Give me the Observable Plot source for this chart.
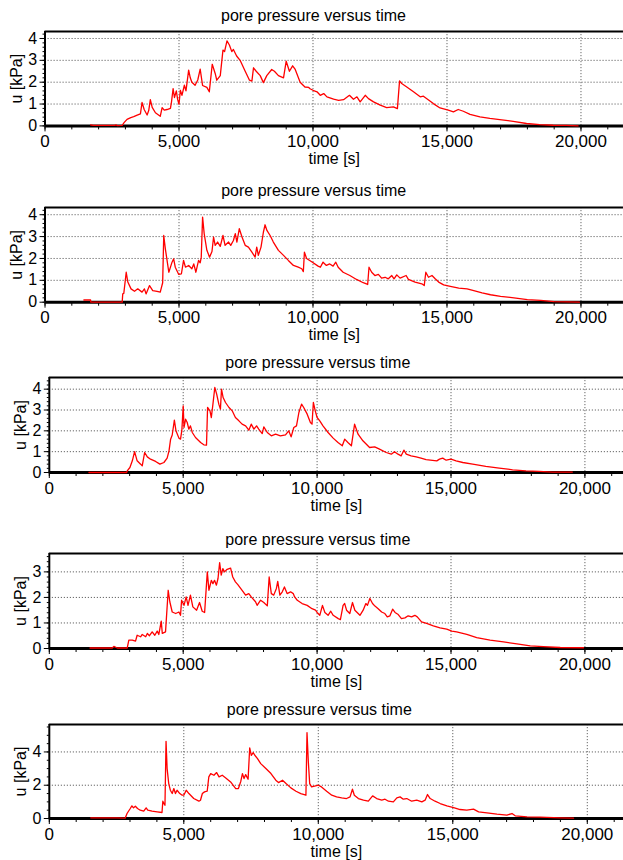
<!DOCTYPE html>
<html><head><meta charset="utf-8">
<script src="https://cdn.jsdelivr.net/npm/d3@7"></script>
<script src="https://cdn.jsdelivr.net/npm/@observablehq/plot@0.6"></script>
<style>
html,body{margin:0;padding:0;background:#fff;}
body{width:623px;height:860px;overflow:hidden;position:relative;font-family:"Liberation Sans",Arial,sans-serif;}
.panel{position:absolute;left:0;}
.title{position:absolute;font-size:16px;line-height:16px;white-space:nowrap;transform:translateX(-50%);color:#000;}
</style></head><body>
<script>
// ---------- data (time [s], u [kPa]) ----------
const titleText = "pore pressure versus time";
const xLabel = "time [s]";
const yLabel = "u [kPa]";
const xMajorTicks = [0, 5000, 10000, 15000, 20000];
const xMinorTicks = [0,1000,2000,3000,4000,5000,6000,7000,8000,9000,10000,11000,12000,13000,14000,15000,16000,17000,18000,19000,20000,21000];
const yTicks4 = [0, 1, 2, 3, 4];
const yTicks3 = [0, 1, 2, 3];
const yTicks5 = [0, 2, 4];

const series1 = [[1700,0.05],[1800,0.02],[2600,0.02],[2650,0.05],[2700,0.01],[2880,0.02],[2950,0.15],[3060,0.3],[3200,0.38],[3310,0.42],[3440,0.49],[3560,0.55],[3620,1.07],[3700,0.75],[3810,0.5],[3870,0.7],[3930,1.2],[4000,0.85],[4120,0.6],[4300,0.44],[4370,0.84],[4450,0.72],[4550,0.75],[4680,0.8],[4720,1.1],[4780,1.71],[4830,1.3],[4900,1.6],[4950,1.2],[5000,0.99],[5050,1.63],[5110,1.4],[5200,1.86],[5260,1.6],[5360,2.55],[5420,2.2],[5480,2.0],[5600,1.86],[5700,2.1],[5790,2.6],[5880,1.85],[6040,1.76],[6130,1.56],[6240,2.82],[6350,2.4],[6410,2.09],[6540,2.3],[6640,3.47],[6700,3.4],[6790,3.89],[6880,3.7],[6970,3.4],[7030,3.5],[7150,3.2],[7280,3.0],[7470,2.5],[7630,2.09],[7720,2.05],[7780,2.66],[7880,2.5],[8030,2.3],[8150,1.98],[8275,2.3],[8460,2.58],[8560,2.5],[8710,2.3],[8900,2.2],[9000,2.96],[9120,2.5],[9240,2.75],[9330,2.6],[9520,2.0],[9700,1.78],[9840,1.76],[9890,1.7],[10000,1.63],[10150,1.56],[10270,1.40],[10400,1.48],[10520,1.33],[10770,1.22],[10955,1.17],[11140,1.2],[11360,1.40],[11510,1.22],[11640,1.33],[11760,1.10],[11950,1.40],[12070,1.25],[12260,1.10],[12510,0.95],[12750,0.84],[13000,0.87],[13150,0.79],[13230,2.06],[13310,1.94],[13500,1.78],[13750,1.56],[14000,1.33],[14120,1.36],[14300,1.2],[14490,1.02],[14740,0.82],[15050,0.72],[15240,0.64],[15420,0.75],[15610,0.67],[15860,0.53],[16230,0.41],[16600,0.34],[16970,0.29],[17470,0.21],[17970,0.11],[18460,0.06],[18960,0.03],[19450,0.02],[19890,0]];

const series2 = [[1450,0.1],[1700,0.1],[1710,0.0],[2880,0.0],[2900,0.38],[2940,0.4],[3030,1.37],[3090,0.92],[3210,0.61],[3340,0.50],[3460,0.61],[3620,0.46],[3710,0.61],[3770,0.38],[3900,0.76],[4020,0.53],[4180,0.49],[4300,0.46],[4390,0.89],[4430,3.05],[4490,2.44],[4620,1.37],[4740,1.83],[4800,1.98],[4860,1.6],[4990,1.27],[5090,1.3],[5170,1.91],[5240,1.6],[5360,1.68],[5480,1.53],[5550,1.75],[5630,1.37],[5730,1.91],[5790,1.8],[5830,2.06],[5880,3.89],[5940,3.13],[6040,2.37],[6140,2.06],[6230,2.32],[6290,2.98],[6350,2.6],[6440,2.75],[6540,2.55],[6640,3.05],[6720,2.6],[6850,2.75],[6930,2.6],[7030,2.82],[7100,3.13],[7160,2.75],[7250,3.36],[7350,2.98],[7470,2.6],[7590,2.52],[7720,2.29],[7840,2.06],[7900,2.52],[7960,2.14],[8060,2.52],[8150,3.21],[8210,3.54],[8280,3.28],[8400,3.05],[8520,2.75],[8710,2.37],[8900,2.14],[9080,1.91],[9270,1.68],[9450,1.6],[9580,1.53],[9640,1.40],[9680,2.29],[9760,2.0],[9950,1.85],[10190,1.65],[10275,1.6],[10375,1.83],[10500,1.68],[10625,1.75],[10750,1.65],[10850,1.83],[10940,1.6],[11125,1.37],[11375,1.22],[11625,1.04],[11875,0.89],[12040,0.81],[12090,1.60],[12190,1.37],[12310,1.22],[12440,1.27],[12560,1.10],[12690,1.14],[12810,1.07],[12940,1.22],[13025,1.07],[13125,1.25],[13250,1.10],[13475,1.22],[13560,1.04],[13810,0.92],[14060,0.84],[14150,0.76],[14210,1.37],[14310,1.14],[14440,1.22],[14560,1.07],[14690,0.92],[14875,0.79],[15125,0.72],[15440,0.64],[15750,0.61],[16000,0.53],[16310,0.43],[16625,0.34],[17000,0.27],[17500,0.2],[18000,0.12],[18500,0.08],[19000,0.03],[19940,0]];

const series3 = [[1480,0],[2890,0],[2910,0.08],[3010,0.24],[3100,0.56],[3185,1.0],[3280,0.56],[3410,0.4],[3470,0.32],[3560,0.96],[3660,0.75],[3780,0.64],[3970,0.53],[4130,0.4],[4280,0.48],[4400,0.69],[4470,1.04],[4530,1.6],[4590,1.8],[4670,2.51],[4730,2.0],[4840,1.65],[4900,1.6],[4950,2.03],[5000,3.2],[5030,2.16],[5090,2.56],[5150,2.4],[5210,2.08],[5270,2.24],[5340,1.92],[5460,1.68],[5650,1.44],[5770,1.33],[5870,1.31],[5910,3.12],[6000,2.96],[6050,2.64],[6110,3.28],[6180,4.08],[6250,3.76],[6330,3.28],[6390,3.04],[6430,4.0],[6490,3.6],[6580,3.36],[6710,3.12],[6830,2.96],[6950,2.64],[7080,2.48],[7200,2.32],[7330,2.24],[7450,2.03],[7540,2.32],[7640,2.08],[7740,2.24],[7820,2.08],[7950,1.87],[8010,2.19],[8140,1.92],[8290,1.76],[8450,1.84],[8630,1.76],[8820,1.81],[8940,2.0],[9030,1.71],[9130,2.16],[9230,2.24],[9320,2.88],[9420,3.28],[9500,3.12],[9630,2.8],[9750,2.4],[9810,2.32],[9860,3.36],[9930,2.96],[10000,2.64],[10100,2.48],[10220,2.24],[10410,1.92],[10600,1.65],[10780,1.44],[10940,1.28],[11030,1.6],[11150,1.44],[11280,1.28],[11400,2.32],[11530,1.84],[11710,1.52],[11960,1.2],[12150,1.23],[12330,1.12],[12580,0.96],[12770,0.88],[12890,1.0],[13020,0.88],[13140,0.8],[13240,1.07],[13330,0.88],[13510,0.8],[13700,0.75],[13880,0.69],[14070,0.62],[14470,0.56],[14570,0.64],[14690,0.69],[14820,0.59],[15000,0.64],[15190,0.56],[15440,0.48],[15810,0.4],[16300,0.29],[16800,0.21],[17300,0.13],[17800,0.08],[18290,0.05],[18790,0.02],[19530,0.02]];

const series4 = [[1520,0.02],[2350,0.02],[2410,0.08],[2540,0.02],[2910,0.02],[2970,0.33],[3100,0.33],[3220,0.29],[3280,0.52],[3410,0.46],[3470,0.55],[3600,0.46],[3660,0.59],[3740,0.5],[3840,0.65],[3940,0.52],[4030,0.68],[4090,0.55],[4180,1.07],[4220,0.59],[4340,0.65],[4440,2.28],[4500,1.83],[4590,1.43],[4720,1.37],[4840,1.43],[4900,1.30],[4940,1.89],[5030,1.69],[5110,2.02],[5180,1.69],[5270,2.09],[5360,1.63],[5500,1.5],[5610,1.8],[5710,1.46],[5800,1.41],[5900,3.0],[5960,2.28],[6050,2.67],[6110,2.54],[6170,2.67],[6240,2.48],[6300,2.74],[6360,3.36],[6420,2.87],[6480,3.13],[6540,3.0],[6640,3.1],[6770,3.15],[6850,2.8],[6950,2.61],[7040,2.5],[7200,2.28],[7330,2.09],[7450,2.15],[7540,2.02],[7700,1.83],[7760,1.69],[7890,1.89],[8010,1.8],[8140,1.67],[8210,2.8],[8290,2.15],[8380,2.09],[8480,2.35],[8530,2.63],[8610,2.09],[8700,2.22],[8780,2.41],[8880,2.15],[9010,2.22],[9110,2.15],[9160,2.02],[9260,1.89],[9440,1.76],[9630,1.69],[9810,1.56],[9940,1.5],[10000,1.41],[10100,1.30],[10200,1.69],[10290,1.41],[10410,1.30],[10510,1.46],[10600,1.30],[10790,1.17],[10870,1.13],[10970,1.69],[11030,1.76],[11100,1.50],[11220,1.37],[11320,1.8],[11410,1.50],[11600,1.30],[11720,1.50],[11820,1.76],[11880,1.69],[11970,1.96],[12070,1.76],[12160,1.66],[12280,1.56],[12410,1.43],[12530,1.37],[12620,1.24],[12720,1.28],[12820,1.54],[12910,1.41],[13030,1.33],[13150,1.17],[13280,1.20],[13400,1.28],[13530,1.24],[13650,1.3],[13740,1.24],[13900,1.04],[14090,0.98],[14340,0.89],[14590,0.81],[14840,0.76],[15030,0.68],[15210,0.65],[15590,0.55],[15960,0.43],[16460,0.33],[16960,0.26],[17460,0.18],[17960,0.10],[18450,0.07],[19080,0.04],[19950,0.03]];

const series5 = [[1540,0.04],[2510,0.04],[2820,0.02],[2890,0.3],[3010,0.6],[3070,0.76],[3130,0.64],[3200,0.74],[3280,0.6],[3380,0.5],[3510,0.44],[3600,0.64],[3660,0.5],[3820,0.44],[4010,0.4],[4190,0.36],[4220,1.04],[4280,0.84],[4300,0.8],[4340,4.64],[4380,3.0],[4440,2.1],[4500,1.7],[4570,1.5],[4630,1.8],[4690,1.5],[4750,1.7],[4850,1.5],[4940,1.4],[5000,1.4],[5090,1.7],[5190,1.5],[5370,1.2],[5560,1.04],[5620,1.1],[5690,1.5],[5770,1.6],[5870,1.64],[5930,2.5],[6000,2.7],[6120,2.6],[6220,2.76],[6310,2.5],[6430,2.6],[6560,2.44],[6740,2.2],[6930,1.8],[7030,1.8],[7120,2.24],[7180,2.7],[7240,2.4],[7300,2.64],[7390,2.36],[7450,4.24],[7510,3.8],[7580,3.96],[7640,3.8],[7740,3.6],[7860,3.3],[8050,3.0],[8240,2.7],[8420,2.3],[8520,2.16],[8670,2.3],[8800,2.1],[8980,1.84],[9170,1.64],[9350,1.5],[9540,1.4],[9580,5.16],[9630,3.4],[9680,2.1],[9750,1.9],[9900,1.96],[10000,2.0],[10120,1.9],[10310,1.64],[10500,1.4],[10680,1.3],[10870,1.24],[11050,1.2],[11180,1.3],[11270,1.76],[11340,1.4],[11490,1.2],[11680,1.1],[11860,1.04],[12020,1.36],[12170,1.2],[12360,1.1],[12480,1.16],[12610,1.04],[12790,1.0],[12920,1.24],[13040,1.3],[13160,1.16],[13290,1.2],[13470,1.04],[13660,1.1],[13850,1.0],[13970,1.1],[14060,1.44],[14160,1.2],[14340,1.04],[14530,0.9],[14780,0.76],[15030,0.66],[15270,0.54],[15520,0.5],[15770,0.56],[15960,0.4],[16270,0.34],[16640,0.26],[17010,0.2],[17200,0.3],[17320,0.16],[17760,0.1],[18250,0.08],[19000,0.04],[19490,0.02]];

// ---------- layout ----------
const panels = [
  {data: series1, top: 31.3, bottom: 125.7, left: 44.5, xmax: 21586, ymax: 4.32, yTicks: yTicks4, yMinorStep: 0.2, titleX: 313.5, titleBase: 21.7, yLabelX: 16.5},
  {data: series2, top: 207,  bottom: 301.7, left: 44.5, xmax: 21586, ymax: 4.33, yTicks: yTicks4, yMinorStep: 0.2, titleX: 313.7, titleBase: 196.7, yLabelX: 16.5},
  {data: series3, top: 376.7, bottom: 471.7, left: 48.8, xmax: 21441, ymax: 4.56, yTicks: yTicks4, yMinorStep: 0.2, titleX: 317.8, titleBase: 368.3, yLabelX: 20},
  {data: series4, top: 553.3, bottom: 648.3, left: 48.8, xmax: 21441, ymax: 3.72, yTicks: yTicks3, yMinorStep: 0.2, titleX: 317.8, titleBase: 545, yLabelX: 20},
  {data: series5, top: 724.3, bottom: 818.3, left: 48.8, xmax: 21346, ymax: 5.65, yTicks: yTicks5, yMinorStep: 0.5, titleX: 319.3, titleBase: 715.7, yLabelX: 20}
];

const font = "'Liberation Sans', Arial, sans-serif";
const mt = 4, mb = 48;

for (const p of panels) {
  const plotH = p.bottom - p.top;
  const yMinor = d3.range(0, p.ymax, p.yMinorStep);
  const svg = Plot.plot({
    width: 623,
    height: mt + plotH + mb,
    marginTop: mt, marginBottom: mb, marginLeft: p.left, marginRight: 0,
    x: {domain: [0, p.xmax]},
    y: {domain: [0, p.ymax]},
    style: {fontFamily: font, fontSize: "16px", background: "transparent", overflow: "visible", color: "#000"},
    marks: [
      Plot.ruleX(xMajorTicks.filter(d => d > 0), {stroke: "#666", strokeWidth: 1, strokeDasharray: "1.2,1.8"}),
      Plot.ruleY(p.yTicks.filter(d => d > 0), {stroke: "#666", strokeWidth: 1, strokeDasharray: "1.2,1.8"}),
      Plot.axisX({ticks: xMinorTicks, tickSize: 4, tickFormat: () => "", label: null}),
      Plot.axisX({ticks: xMajorTicks, tickSize: 6, tickPadding: 3, tickFormat: d3.format(","), label: null, fontSize: 17}),
      Plot.axisY({ticks: yMinor, tickSize: 2, tickFormat: () => "", label: null}),
      Plot.axisY({ticks: p.yTicks, tickSize: 5, tickPadding: 3, tickFormat: d => String(d), label: null, fontSize: 16}),
      Plot.ruleX([0], {stroke: "#000", strokeWidth: 2}),
      Plot.ruleY([p.ymax], {stroke: "#000", strokeWidth: 2}),
      Plot.ruleY([0], {stroke: "#000", strokeWidth: 3}),
      Plot.line(p.data, {x: d => d[0], y: d => d[1], stroke: "#ff0000", strokeWidth: 1.3}),
      Plot.text([xLabel], {frameAnchor: "bottom", textAnchor: "middle", lineAnchor: "middle", dy: 33, fontSize: 16}),
      Plot.text([yLabel], {frameAnchor: "left", textAnchor: "middle", lineAnchor: "middle", dx: p.yLabelX - p.left, rotate: -90, fontSize: 16})
    ]
  });
  const wrap = document.createElement("div");
  wrap.className = "panel";
  wrap.style.top = (p.top - mt) + "px";
  wrap.appendChild(svg);
  document.body.appendChild(wrap);

  const t = document.createElement("div");
  t.className = "title";
  t.textContent = titleText;
  t.style.left = p.titleX + "px";
  t.style.top = (p.titleBase - 13.5) + "px";
  document.body.appendChild(t);
}
</script>
</body></html>
